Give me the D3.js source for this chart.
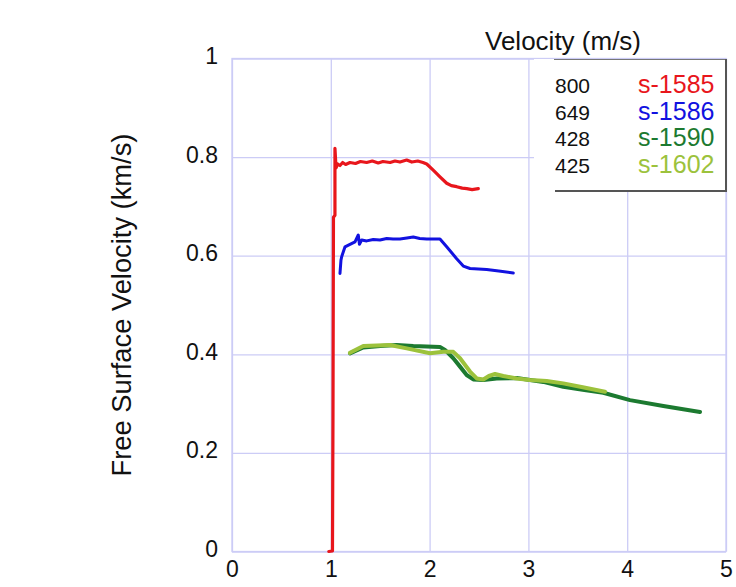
<!DOCTYPE html>
<html>
<head>
<meta charset="utf-8">
<script src="https://cdn.jsdelivr.net/npm/d3@7"></script>
<style>
  html, body { margin: 0; padding: 0; background: #fff; }
  svg { display: block; font-family: "Liberation Sans", Arial, sans-serif; }
</style>
</head>
<body>
<svg id="chart" width="736" height="587"></svg>
<script>
// ---- data ----
const xTicks = [0, 1, 2, 3, 4, 5];
const yTicks = [0, 0.2, 0.4, 0.6, 0.8, 1];
const seriesNames = ["s-1585", "s-1586", "s-1590", "s-1602"];
const seriesVelocities = ["800", "649", "428", "425"];
const seriesColors = ["#e8161c", "#1212e0", "#1c7a30", "#9cc23c"];

const s1585 = [
  [0.98, 0.0], [1.017, 0.001], [1.022, 0.267], [1.027, 0.678], [1.042, 0.682],
  [1.042, 0.818], [1.053, 0.778], [1.07, 0.786], [1.093, 0.783], [1.12, 0.789],
  [1.15, 0.785], [1.194, 0.789], [1.25, 0.787], [1.30, 0.791], [1.363, 0.789],
  [1.42, 0.792], [1.48, 0.788], [1.528, 0.791], [1.60, 0.789], [1.65, 0.792],
  [1.70, 0.790], [1.768, 0.794], [1.82, 0.790], [1.88, 0.792], [1.933, 0.789],
  [1.971, 0.786], [2.034, 0.774], [2.105, 0.760], [2.173, 0.747], [2.22, 0.742],
  [2.274, 0.740], [2.33, 0.737], [2.376, 0.736], [2.43, 0.734], [2.493, 0.736]
];
const s1586 = [
  [1.093, 0.564], [1.103, 0.591], [1.110, 0.598], [1.144, 0.618], [1.194, 0.623],
  [1.245, 0.628], [1.278, 0.642], [1.290, 0.623], [1.313, 0.632], [1.363, 0.630],
  [1.43, 0.633], [1.498, 0.632], [1.566, 0.635], [1.63, 0.634], [1.700, 0.634],
  [1.77, 0.636], [1.835, 0.638], [1.90, 0.635], [1.971, 0.634], [2.05, 0.634],
  [2.105, 0.634], [2.173, 0.618], [2.274, 0.594], [2.341, 0.579], [2.409, 0.574],
  [2.578, 0.572], [2.70, 0.569], [2.847, 0.565]
];
const s1590 = [
  [1.194, 0.402], [1.329, 0.414], [1.50, 0.417], [1.667, 0.419], [1.835, 0.417],
  [2.105, 0.415], [2.156, 0.409], [2.240, 0.392], [2.308, 0.375], [2.375, 0.358],
  [2.442, 0.349], [2.544, 0.348], [2.679, 0.351], [2.882, 0.352], [3.016, 0.348],
  [3.151, 0.344], [3.353, 0.334], [3.55, 0.328], [3.758, 0.322], [4.028, 0.307],
  [4.366, 0.295], [4.737, 0.283]
];
const s1602 = [
  [1.194, 0.403], [1.329, 0.417], [1.599, 0.419], [1.768, 0.412], [2.004, 0.402],
  [2.139, 0.405], [2.240, 0.405], [2.308, 0.392], [2.409, 0.365], [2.477, 0.351],
  [2.544, 0.349], [2.60, 0.356], [2.662, 0.360], [2.746, 0.356], [2.882, 0.351],
  [3.016, 0.348], [3.185, 0.346], [3.353, 0.341], [3.55, 0.333], [3.775, 0.324]
];
const seriesData = [s1585, s1586, s1590, s1602];
const seriesWidths = [3.2, 3, 4, 4];

// ---- layout ----
const svg = d3.select("#chart");
const pL = 232, pR = 726, pT = 58.5, pB = 551.5;
const x = d3.scaleLinear().domain([0, 5]).range([pL, pR]);
const y = d3.scaleLinear().domain([0, 1]).range([pB, pT]);
const gridColor = "#ccccf6";

const fmtY = d => (d === 0 ? "0" : d === 1 ? "1" : d3.format(".1f")(d));
const fmtX = d3.format("d");

const gx = svg.append("g")
  .attr("transform", `translate(0,${pB})`)
  .call(d3.axisBottom(x).tickValues(xTicks).tickFormat(fmtX)
        .tickSize(-(pB - pT)).tickPadding(9.5));
const gy = svg.append("g")
  .attr("transform", `translate(${pL},0)`)
  .call(d3.axisLeft(y).tickValues(yTicks).tickFormat(fmtY)
        .tickSize(-(pR - pL)).tickPadding(14));

[gx, gy].forEach(g => {
  g.select(".domain").remove();
  g.selectAll(".tick line").attr("stroke", gridColor).attr("stroke-width", 1.3);
  g.selectAll(".tick text").attr("fill", "#111").style("font-size", "23px")
    .style("font-family", '"Liberation Sans", Arial, sans-serif');
});
gy.selectAll(".tick text").attr("dy", "0.22em");

svg.append("rect")
  .attr("x", pL).attr("y", pT)
  .attr("width", pR - pL).attr("height", pB - pT)
  .attr("fill", "none").attr("stroke", gridColor).attr("stroke-width", 1.3);

const line = d3.line().x(d => x(d[0])).y(d => y(d[1]));
seriesData.forEach((data, i) => {
  svg.append("path")
    .datum(data)
    .attr("d", line)
    .attr("fill", "none")
    .attr("stroke", seriesColors[i])
    .attr("stroke-width", seriesWidths[i])
    .attr("stroke-linejoin", "round")
    .attr("stroke-linecap", "round");
});

svg.append("text")
  .attr("transform", `translate(131,${(pT + pB) / 2}) rotate(-90)`)
  .attr("text-anchor", "middle")
  .style("font-size", "27.3px")
  .attr("fill", "#111")
  .text("Free Surface Velocity (km/s)");

svg.append("text")
  .attr("x", 485).attr("y", 50)
  .style("font-size", "26px")
  .attr("fill", "#111")
  .text("Velocity (m/s)");

const lg = svg.append("g");
lg.append("rect")
  .attr("x", 534).attr("y", 59)
  .attr("width", 726 - 534).attr("height", 191 - 59)
  .attr("fill", "#fff");
lg.append("line").attr("x1", 554).attr("x2", 726).attr("y1", 59.5).attr("y2", 59.5)
  .attr("stroke", "#777").attr("stroke-width", 1.2);
lg.append("line").attr("x1", 726).attr("x2", 726).attr("y1", 59).attr("y2", 191)
  .attr("stroke", "#555").attr("stroke-width", 2);
lg.append("line").attr("x1", 555).attr("x2", 727).attr("y1", 191).attr("y2", 191)
  .attr("stroke", "#555").attr("stroke-width", 2);

const rowY = d3.scalePoint().domain(seriesNames).range([93, 173]);
seriesNames.forEach((name, i) => {
  lg.append("text")
    .attr("x", 555).attr("y", rowY(name))
    .style("font-size", "21px").attr("fill", "#111")
    .text(seriesVelocities[i]);
  lg.append("text")
    .attr("x", 638).attr("y", rowY(name))
    .style("font-size", "25px").attr("fill", seriesColors[i])
    .text(name);
});
</script>
</body>
</html>
